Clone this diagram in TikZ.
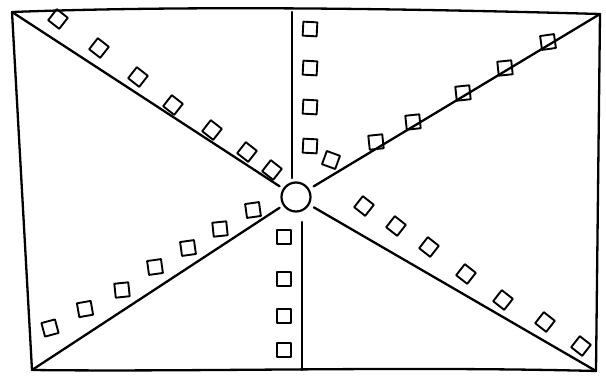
\documentclass[tikz,border=0pt]{standalone}
\begin{document}
\begin{tikzpicture}[x=1pt,y=-1pt,line cap=round,line join=round,
  ink/.style={line width=2.3pt,black},
  sq/.style={draw,line width=1.9pt,minimum size=14pt,inner sep=0pt,shape=rectangle},
  hub/.style={draw,line width=2.2pt,circle,minimum size=29pt,inner sep=0pt}]
\useasboundingbox (0,0) rectangle (606,381);
% frame corners
\coordinate (tl) at (12,12);
\coordinate (tr) at (600,14);
\coordinate (br) at (596,371);
\coordinate (bl) at (32,370);
\draw[ink] (tl) .. controls (200,5) and (420,9) .. (tr) -- (br) .. controls (400,366) and (200,372) .. (bl) -- cycle;
% hub
\node[hub] (c) at (296,197) {};
% spokes
\coordinate (vt) at (292,12);
\coordinate (vtb) at (292,178);
\coordinate (vb) at (302,370);
\coordinate (vbt) at (302,222);
\draw[ink] (vt) -- (vtb);
\draw[ink] (vbt) -- (vb);
\draw[ink,shorten >=4pt] (tl) -- (c);
\draw[ink,shorten >=5pt] (tr) -- (c);
\draw[ink,shorten >=4pt] (bl) -- (c);
\draw[ink,shorten >=5pt] (br) -- (c);
% squares: top-left diagonal
\foreach \x/\y [count=\i] in {58/19,99/48,138/77,173/105,212/130,247/152,272/170}
  \node[sq,rotate=-38] (a\i) at (\x,\y) {};
% top vertical
\foreach \y [count=\i] in {29,68,107,146}
  \node[sq,rotate=-3] (b\i) at (310,\y) {};
% top-right diagonal
\foreach \x/\y/\r [count=\i] in {331/160/-20,376/142/6,413/122/6,463/93/6,505/68/6,548/42/8}
  \node[sq,rotate=\r] (d\i) at (\x,\y) {};
% bottom-left diagonal
\foreach \x/\y/\r [count=\i] in {50/328/15,85/309/10,122/290/6,155/267/8,188/248/8,220/229/6,253/210/8}
  \node[sq,rotate=\r] (e\i) at (\x,\y) {};
% bottom vertical
\foreach \y [count=\i] in {237,279,316,350}
  \node[sq,rotate=0] (f\i) at (284,\y) {};
% bottom-right diagonal
\foreach \x/\y [count=\i] in {364/206,396/226,429/247,466/274,503/300,545/322,581/346}
  \node[sq,rotate=-38] (g\i) at (\x,\y) {};
\end{tikzpicture}
\end{document}
